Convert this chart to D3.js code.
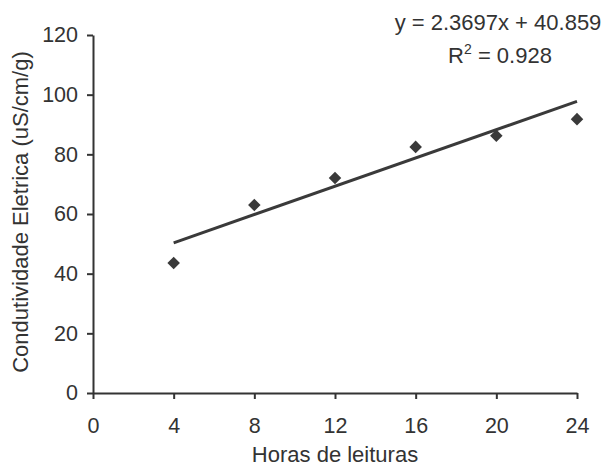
<!DOCTYPE html>
<html>
<head>
<meta charset="utf-8">
<script src="https://cdn.jsdelivr.net/npm/d3@7"></script>
<style>
  body { margin: 0; background: #fff; }
  text { font-family: "Liberation Sans", Arial, sans-serif; fill: #333; }
</style>
</head>
<body>
<div id="chart"></div>
<script>
// Data
var hours = [4, 8, 12, 16, 20, 24];
var conductivity = [43.6, 63.0, 72.1, 82.5, 86.2, 91.8];
var xTicks = [0, 4, 8, 12, 16, 20, 24];
var yTicks = [0, 20, 40, 60, 80, 100, 120];
var slope = 2.3697, intercept = 40.859;
var trendX = [4, 24];

var W = 604, H = 466;
var margin = {top: 35, right: 27, bottom: 73, left: 93};

var svg = d3.select("#chart").append("svg")
  .attr("width", W)
  .attr("height", H);

var x = d3.scaleLinear().domain([0, 24]).range([margin.left, W - margin.right]);
var y = d3.scaleLinear().domain([0, 120]).range([H - margin.bottom, margin.top]);

// X axis
var xAxis = svg.append("g")
  .attr("transform", "translate(0," + y(0) + ")")
  .call(d3.axisBottom(x).tickValues(xTicks).tickSize(6).tickPadding(19).tickSizeOuter(0));
xAxis.selectAll("text").style("font-size", "21.5px").style("font-family", "'Liberation Sans', Arial, sans-serif");

// Y axis
var yAxis = svg.append("g")
  .attr("transform", "translate(" + x(0) + ",0)")
  .call(d3.axisLeft(y).tickValues(yTicks).tickSize(6).tickPadding(9).tickSizeOuter(0));
yAxis.selectAll("text").style("font-size", "21.5px").style("font-family", "'Liberation Sans', Arial, sans-serif");

svg.selectAll(".domain, .tick line")
  .attr("stroke", "#333")
  .attr("stroke-width", 2);
svg.selectAll(".tick text").attr("fill", "#333");

// Axis titles
svg.append("text")
  .attr("x", (x(0) + x(24)) / 2)
  .attr("y", 462)
  .attr("text-anchor", "middle")
  .style("font-size", "22px")
  .text("Horas de leituras");

svg.append("text")
  .attr("transform", "translate(28," + 212 + ") rotate(-90)")
  .attr("text-anchor", "middle")
  .style("font-size", "22px")
  .text("Condutividade Eletrica (uS/cm/g)");

// Trend line
var line = d3.line()
  .x(function(d) { return x(d); })
  .y(function(d) { return y(slope * d + intercept); });

svg.append("path")
  .datum(trendX)
  .attr("d", line)
  .attr("fill", "none")
  .attr("stroke", "#3a3a3a")
  .attr("stroke-width", 3);

// Diamond markers
svg.selectAll(".pt")
  .data(hours)
  .enter()
  .append("path")
  .attr("class", "pt")
  .attr("d", d3.symbol().type(d3.symbolDiamond2).size(100))
  .attr("transform", function(d, i) { return "translate(" + x(d) + "," + y(conductivity[i]) + ")"; })
  .attr("fill", "#3a3a3a");

// Equation label
svg.append("text")
  .attr("x", 498)
  .attr("y", 30)
  .attr("text-anchor", "middle")
  .style("font-size", "22px")
  .text("y = 2.3697x + 40.859");

var r2 = svg.append("text")
  .attr("x", 500)
  .attr("y", 63)
  .attr("text-anchor", "middle")
  .style("font-size", "22px");
r2.append("tspan").text("R");
r2.append("tspan").attr("dy", -9).style("font-size", "14px").text("2");
r2.append("tspan").attr("dy", 9).text(" = 0.928");
</script>
</body>
</html>
